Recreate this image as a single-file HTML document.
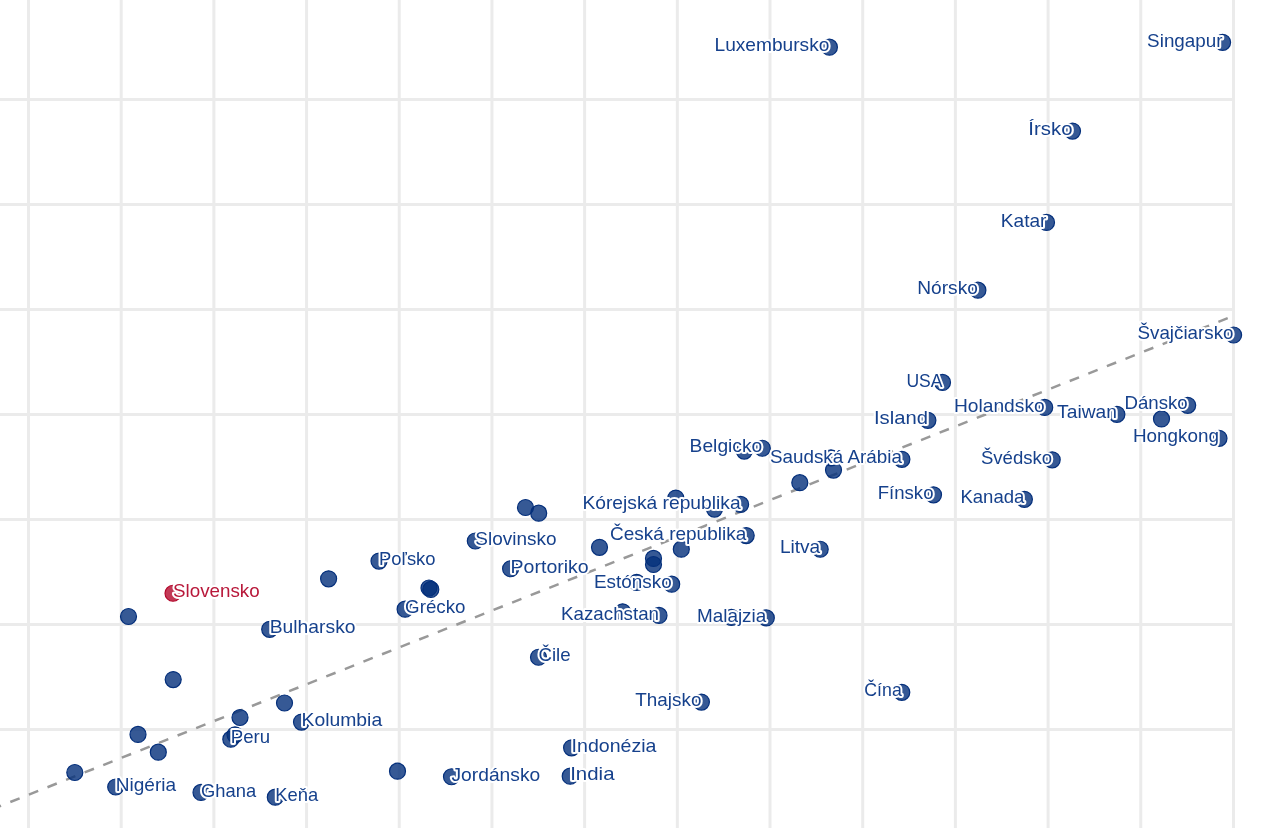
<!DOCTYPE html>
<html lang="sk"><head><meta charset="utf-8"><title>Scatter</title>
<style>
html,body{margin:0;padding:0;background:#fff;width:1287px;height:828px;overflow:hidden}
svg{display:block;will-change:transform}
.g line{stroke:#ebebeb;stroke-width:3}
.d circle{fill:#042f7b;fill-opacity:.8;stroke:#042f7b;stroke-width:1.2}
.d circle.r{fill:#b3082c;stroke:#b3082c}
.l text{font-family:"Liberation Sans",sans-serif;font-size:19px;fill:#16418c;stroke:#fff;stroke-width:4;stroke-linejoin:round;paint-order:stroke fill}
.l text.r{fill:#b8183a}
</style></head><body>
<svg width="1287" height="828" viewBox="0 0 1287 828">
<rect width="1287" height="828" fill="#fff"/>
<g class="g">
<line x1="28.50" y1="0" x2="28.50" y2="828"/>
<line x1="121.19" y1="0" x2="121.19" y2="828"/>
<line x1="213.88" y1="0" x2="213.88" y2="828"/>
<line x1="306.57" y1="0" x2="306.57" y2="828"/>
<line x1="399.26" y1="0" x2="399.26" y2="828"/>
<line x1="491.95" y1="0" x2="491.95" y2="828"/>
<line x1="584.64" y1="0" x2="584.64" y2="828"/>
<line x1="677.33" y1="0" x2="677.33" y2="828"/>
<line x1="770.02" y1="0" x2="770.02" y2="828"/>
<line x1="862.71" y1="0" x2="862.71" y2="828"/>
<line x1="955.40" y1="0" x2="955.40" y2="828"/>
<line x1="1048.09" y1="0" x2="1048.09" y2="828"/>
<line x1="1140.78" y1="0" x2="1140.78" y2="828"/>
<line x1="1233.47" y1="0" x2="1233.47" y2="828"/>
<line x1="0" y1="99.5" x2="1235" y2="99.5"/>
<line x1="0" y1="204.5" x2="1235" y2="204.5"/>
<line x1="0" y1="309.5" x2="1235" y2="309.5"/>
<line x1="0" y1="414.5" x2="1235" y2="414.5"/>
<line x1="0" y1="519.5" x2="1235" y2="519.5"/>
<line x1="0" y1="624.5" x2="1235" y2="624.5"/>
<line x1="0" y1="729.5" x2="1235" y2="729.5"/>
</g>
<path d="M1227.7 318.2L-10 810.06" fill="none" stroke="#999" stroke-width="2.5" stroke-dasharray="10 10"/>
<g class="d">
<circle cx="1161.5" cy="418.9" r="8.0"/>
<circle cx="744.3" cy="451.1" r="8.0"/>
<circle cx="831.0" cy="457.8" r="8.0"/>
<circle cx="799.8" cy="482.7" r="8.0"/>
<circle cx="833.5" cy="470.1" r="8.0"/>
<circle cx="675.8" cy="498.1" r="8.0"/>
<circle cx="714.5" cy="509.1" r="8.0"/>
<circle cx="525.5" cy="507.5" r="8.0"/>
<circle cx="538.7" cy="513.2" r="8.0"/>
<circle cx="599.5" cy="547.35" r="8.0"/>
<circle cx="681.3" cy="549.2" r="8.0"/>
<circle cx="653.5" cy="558.4" r="8.0"/>
<circle cx="653.5" cy="564.5" r="8.0"/>
<circle cx="636.7" cy="582.3" r="8.0"/>
<circle cx="622.6" cy="611.8" r="8.0"/>
<circle cx="731.4" cy="617.45" r="8.0"/>
<circle cx="328.6" cy="578.8" r="8.0"/>
<circle cx="429.0" cy="588.0" r="8.0"/>
<circle cx="430.8" cy="589.4" r="8.0"/>
<circle cx="128.5" cy="616.5" r="8.0"/>
<circle cx="173.2" cy="679.6" r="8.0"/>
<circle cx="240.0" cy="717.5" r="8.0"/>
<circle cx="284.5" cy="703.0" r="8.0"/>
<circle cx="235.0" cy="734.8" r="8.0"/>
<circle cx="138.0" cy="734.4" r="8.0"/>
<circle cx="158.3" cy="752.2" r="8.0"/>
<circle cx="74.8" cy="772.5" r="8.0"/>
<circle cx="397.5" cy="771.2" r="8.0"/>
<circle cx="829.4" cy="47.2" r="8.0"/>
<circle cx="1222.6" cy="42.35" r="8.0"/>
<circle cx="1072.5" cy="131.1" r="8.0"/>
<circle cx="1046.5" cy="222.4" r="8.0"/>
<circle cx="977.9" cy="290.2" r="8.0"/>
<circle cx="1233.6" cy="335.0" r="8.0"/>
<circle cx="942.5" cy="382.4" r="8.0"/>
<circle cx="927.9" cy="420.35" r="8.0"/>
<circle cx="1044.7" cy="407.4" r="8.0"/>
<circle cx="1116.9" cy="414.3" r="8.0"/>
<circle cx="1187.7" cy="405.3" r="8.0"/>
<circle cx="1219.0" cy="438.3" r="8.0"/>
<circle cx="762.3" cy="448.25" r="8.0"/>
<circle cx="901.9" cy="459.3" r="8.0"/>
<circle cx="1052.2" cy="459.8" r="8.0"/>
<circle cx="933.5" cy="494.8" r="8.0"/>
<circle cx="1024.4" cy="499.3" r="8.0"/>
<circle cx="740.6" cy="504.45" r="8.0"/>
<circle cx="746.2" cy="535.6" r="8.0"/>
<circle cx="820.2" cy="549.25" r="8.0"/>
<circle cx="671.7" cy="584.2" r="8.0"/>
<circle cx="659.0" cy="615.4" r="8.0"/>
<circle cx="766.3" cy="617.95" r="8.0"/>
<circle cx="701.4" cy="702.1" r="8.0"/>
<circle cx="901.8" cy="692.3" r="8.0"/>
<circle cx="475.3" cy="541.0" r="8.0"/>
<circle cx="379.0" cy="561.1" r="8.0"/>
<circle cx="510.6" cy="568.75" r="8.0"/>
<circle class="r" cx="173.0" cy="593.25" r="8.0"/>
<circle cx="405.1" cy="609.2" r="8.0"/>
<circle cx="269.7" cy="629.3" r="8.0"/>
<circle cx="538.5" cy="657.25" r="8.0"/>
<circle cx="301.5" cy="722.1" r="8.0"/>
<circle cx="230.8" cy="739.2" r="8.0"/>
<circle cx="571.6" cy="747.8" r="8.0"/>
<circle cx="451.5" cy="776.75" r="8.0"/>
<circle cx="570.2" cy="776.15" r="8.0"/>
<circle cx="115.7" cy="787.0" r="8.0"/>
<circle cx="201.0" cy="792.4" r="8.0"/>
<circle cx="275.3" cy="797.2" r="8.0"/>
</g><g class="l">
<text x="714.49" y="51.10" textLength="114.91" lengthAdjust="spacingAndGlyphs">Luxembursko</text>
<text x="1147.11" y="47.05" textLength="75.49" lengthAdjust="spacingAndGlyphs">Singapur</text>
<text x="1028.34" y="135.10" textLength="44.16" lengthAdjust="spacingAndGlyphs">Írsko</text>
<text x="1000.80" y="227.30" textLength="45.70" lengthAdjust="spacingAndGlyphs">Katar</text>
<text x="917.27" y="294.20" textLength="60.63" lengthAdjust="spacingAndGlyphs">Nórsko</text>
<text x="1137.48" y="338.60" textLength="96.12" lengthAdjust="spacingAndGlyphs">Švajčiarsko</text>
<text x="906.40" y="387.20" textLength="36.10" lengthAdjust="spacingAndGlyphs">USA</text>
<text x="873.92" y="423.90" textLength="53.98" lengthAdjust="spacingAndGlyphs">Island</text>
<text x="953.92" y="412.10" textLength="90.78" lengthAdjust="spacingAndGlyphs">Holandsko</text>
<text x="1057.11" y="418.20" textLength="59.79" lengthAdjust="spacingAndGlyphs">Taiwan</text>
<text x="1124.43" y="409.10" textLength="63.27" lengthAdjust="spacingAndGlyphs">Dánsko</text>
<text x="1132.95" y="441.90" textLength="86.05" lengthAdjust="spacingAndGlyphs">Hongkong</text>
<text x="689.62" y="452.10" textLength="72.68" lengthAdjust="spacingAndGlyphs">Belgicko</text>
<text x="769.96" y="463.10" textLength="131.94" lengthAdjust="spacingAndGlyphs">Saudská Arábia</text>
<text x="980.93" y="464.10" textLength="71.27" lengthAdjust="spacingAndGlyphs">Švédsko</text>
<text x="877.75" y="498.80" textLength="55.75" lengthAdjust="spacingAndGlyphs">Fínsko</text>
<text x="960.39" y="502.90" textLength="64.01" lengthAdjust="spacingAndGlyphs">Kanada</text>
<text x="582.41" y="509.10" textLength="158.19" lengthAdjust="spacingAndGlyphs">Kórejská republika</text>
<text x="610.05" y="539.70" textLength="136.15" lengthAdjust="spacingAndGlyphs">Česká republika</text>
<text x="779.94" y="553.20" textLength="40.26" lengthAdjust="spacingAndGlyphs">Litva</text>
<text x="593.89" y="588.00" textLength="77.81" lengthAdjust="spacingAndGlyphs">Estónsko</text>
<text x="561.05" y="620.10" textLength="97.95" lengthAdjust="spacingAndGlyphs">Kazachstan</text>
<text x="696.95" y="622.10" textLength="69.35" lengthAdjust="spacingAndGlyphs">Malajzia</text>
<text x="635.26" y="706.10" textLength="66.14" lengthAdjust="spacingAndGlyphs">Thajsko</text>
<text x="864.31" y="696.10" textLength="37.49" lengthAdjust="spacingAndGlyphs">Čína</text>
<text x="475.30" y="545.00" textLength="81.17" lengthAdjust="spacingAndGlyphs">Slovinsko</text>
<text x="379.00" y="565.10" textLength="56.56" lengthAdjust="spacingAndGlyphs">Poľsko</text>
<text x="510.60" y="572.80" textLength="78.11" lengthAdjust="spacingAndGlyphs">Portoriko</text>
<text class="r" x="173.00" y="596.80" textLength="86.70" lengthAdjust="spacingAndGlyphs">Slovensko</text>
<text x="405.10" y="613.00" textLength="60.40" lengthAdjust="spacingAndGlyphs">Grécko</text>
<text x="269.70" y="633.20" textLength="85.86" lengthAdjust="spacingAndGlyphs">Bulharsko</text>
<text x="538.50" y="661.00" textLength="32.15" lengthAdjust="spacingAndGlyphs">Čile</text>
<text x="301.50" y="726.10" textLength="80.67" lengthAdjust="spacingAndGlyphs">Kolumbia</text>
<text x="230.80" y="743.10" textLength="39.33" lengthAdjust="spacingAndGlyphs">Peru</text>
<text x="571.60" y="752.00" textLength="84.89" lengthAdjust="spacingAndGlyphs">Indonézia</text>
<text x="451.50" y="781.10" textLength="88.73" lengthAdjust="spacingAndGlyphs">Jordánsko</text>
<text x="570.20" y="780.20" textLength="44.31" lengthAdjust="spacingAndGlyphs">India</text>
<text x="115.70" y="790.80" textLength="60.40" lengthAdjust="spacingAndGlyphs">Nigéria</text>
<text x="201.00" y="796.80" textLength="55.08" lengthAdjust="spacingAndGlyphs">Ghana</text>
<text x="275.30" y="801.30" textLength="42.94" lengthAdjust="spacingAndGlyphs">Keňa</text>
</g></svg></body></html>
